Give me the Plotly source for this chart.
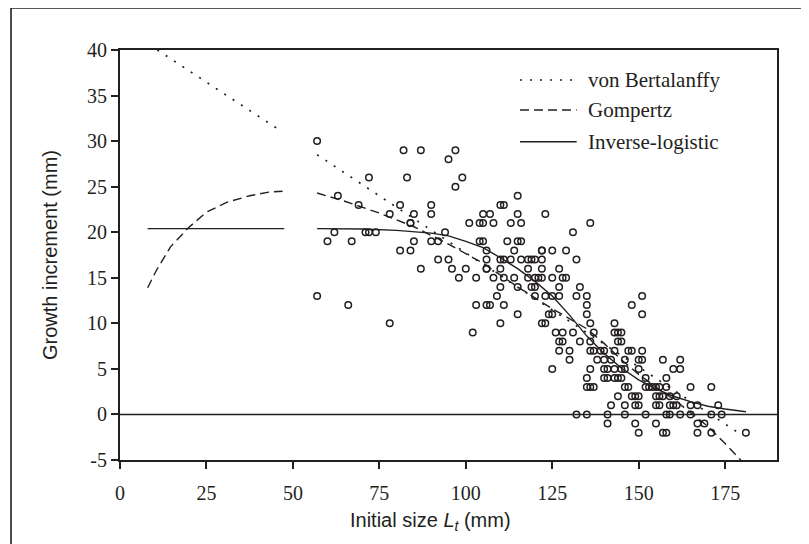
import plotly.graph_objects as go

# ---- observed data: initial size (mm) and growth increment (mm) ----
obs_size = [
    57,
    82, 87, 97,
    95,
    72, 83, 99,
    97,
    63, 115,
    69, 81, 90, 110, 111,
    78, 85, 90, 105, 107, 115, 123,
    84, 84, 101, 104, 105, 108, 113, 116, 136,
    62, 71, 72, 74, 94, 131,
    60, 67, 85, 90, 92, 104, 105, 112, 115, 116,
    81, 84, 106, 114, 122, 122, 125, 129,
    92, 95, 106, 110, 111, 113, 116, 118, 119, 120, 122, 132,
    87, 96, 100, 106, 106, 110, 118, 122, 127,
    98, 103, 108, 111, 114, 118, 120, 121, 122, 125, 128, 129,
    110, 115, 119, 120, 127, 133,
    57, 109, 120, 123, 125, 127, 132, 135, 151,
    66, 103, 106, 107, 111, 135, 148,
    115, 124, 125, 135, 151,
    78, 110, 122, 123, 136, 143,
    102, 126, 128, 131, 137, 143, 144, 145,
    127, 128, 133, 136, 144, 145,
    127, 130, 136, 137, 139, 140, 143, 147, 148, 151,
    130, 138, 140, 142, 146, 150, 151, 157, 162,
    125, 136, 140, 141, 143, 145, 146, 150, 160, 162,
    135, 140, 141, 143, 144, 145, 152, 158,
    135, 136, 137, 146, 147, 152, 153, 154, 155, 156, 158, 165, 171,
    144, 148, 149, 150, 155, 156, 157, 159, 161,
    142, 146, 149, 150, 155, 156, 159, 160, 161, 165, 167, 173,
    132, 135, 141, 146, 152, 158, 159, 162, 165, 171, 174,
    141, 149, 155, 167, 169,
    150, 157, 158, 167, 171, 181,
]
obs_increment = [
    30,
    29, 29, 29,
    28,
    26, 26, 26,
    25,
    24, 24,
    23, 23, 23, 23, 23,
    22, 22, 22, 22, 22, 22, 22,
    21, 21, 21, 21, 21, 21, 21, 21, 21,
    20, 20, 20, 20, 20, 20,
    19, 19, 19, 19, 19, 19, 19, 19, 19, 19,
    18, 18, 18, 18, 18, 18, 18, 18,
    17, 17, 17, 17, 17, 17, 17, 17, 17, 17, 17, 17,
    16, 16, 16, 16, 16, 16, 16, 16, 16,
    15, 15, 15, 15, 15, 15, 15, 15, 15, 15, 15, 15,
    14, 14, 14, 14, 14, 14,
    13, 13, 13, 13, 13, 13, 13, 13, 13,
    12, 12, 12, 12, 12, 12, 12,
    11, 11, 11, 11, 11,
    10, 10, 10, 10, 10, 10,
    9, 9, 9, 9, 9, 9, 9, 9,
    8, 8, 8, 8, 8, 8,
    7, 7, 7, 7, 7, 7, 7, 7, 7, 7,
    6, 6, 6, 6, 6, 6, 6, 6, 6,
    5, 5, 5, 5, 5, 5, 5, 5, 5, 5,
    4, 4, 4, 4, 4, 4, 4, 4,
    3, 3, 3, 3, 3, 3, 3, 3, 3, 3, 3, 3, 3,
    2, 2, 2, 2, 2, 2, 2, 2, 2,
    1, 1, 1, 1, 1, 1, 1, 1, 1, 1, 1, 1,
    0, 0, 0, 0, 0, 0, 0, 0, 0, 0, 0,
    -1, -1, -1, -1, -1,
    -2, -2, -2, -2, -2, -2,
]
assert len(obs_size) == len(obs_increment)

# ---- fitted curves ----
vb_size = [10.8, 47, None, 57, 180]
vb_increment = [40, 31.0, None, 28.5, -2.3]

gompertz_size = [8, 10.5, 14.6, 19.8, 25, 31, 37.5, 43, 47, None,
                 57, 65, 75, 85, 95, 105, 115, 125, 135, 140, 145, 150,
                 155, 160, 165, 170, 175, 180.5]
gompertz_increment = [13.9, 15.8, 18.4, 20.5, 22.2, 23.3, 24.0, 24.4, 24.5, None,
                      24.3, 23.4, 22.1, 20.6, 18.7, 16.6, 14.0, 11.6, 9.4, 7.8, 6.0, 4.4,
                      3.0, 1.7, 0.2, -1.3, -3.2, -5.4]

invlog_size = [8, 47.5, None, 57, 70, 80, 90, 95, 100, 105, 110, 115, 120, 125,
               130, 135, 140, 145, 150, 155, 160, 165, 170, 175, 181]
invlog_increment = [20.4, 20.4, None, 20.4, 20.35, 20.2, 19.9, 19.6, 19.0, 18.3, 17.2,
                    16.0, 14.6, 13.0, 10.9, 8.6, 6.7, 5.1, 3.8, 2.8, 2.0, 1.4, 0.9, 0.6, 0.3]

legend_names = ["von Bertalanffy", "Gompertz", "Inverse-logistic"]
x_ticks = [0, 25, 50, 75, 100, 125, 150, 175]
y_ticks = [-5, 0, 5, 10, 15, 20, 25, 30, 35, 40]
y_ticktext = ["-5", "0", "5", "10", "15", "20", "25", "30", "35", "40"]

INK = "#231f20"
DOT = "2px,8px"
DASH = "9px,5px"

fig = go.Figure()
fig.add_trace(go.Scatter(x=vb_size, y=vb_increment, mode="lines",
                         line=dict(color=INK, width=1.7, dash=DOT), showlegend=False))
fig.add_trace(go.Scatter(x=gompertz_size, y=gompertz_increment, mode="lines",
                         line=dict(color=INK, width=1.4, dash=DASH), showlegend=False))
fig.add_trace(go.Scatter(x=invlog_size, y=invlog_increment, mode="lines",
                         line=dict(color=INK, width=1.4), showlegend=False))
fig.add_trace(go.Scatter(x=obs_size, y=obs_increment, mode="markers",
                         marker=dict(symbol="circle-open", size=6.5, color=INK,
                                     line=dict(width=1.5, color=INK)),
                         showlegend=False))

# plot area in the page: x 120..777, y 50..460 (page has an 8px body margin)
shapes = [
    dict(type="line", xref="paper", yref="y", x0=0, x1=1, y0=0, y1=0,
         line=dict(color=INK, width=1.6)),
    dict(type="rect", xref="paper", yref="paper", x0=-0.1659, x1=1.0441,
         y0=-0.26, y1=1.1024, line=dict(color=INK, width=1.6)),
]
leg_y = [0.9268, 0.8537, 0.7763]
leg_dash = [DOT, DASH, "solid"]
annotations = []
for name, yy, dsh in zip(legend_names, leg_y, leg_dash):
    shapes.append(dict(type="line", xref="paper", yref="paper", x0=0.6088, x1=0.6951,
                       y0=yy, y1=yy, line=dict(color=INK, width=1.6, dash=dsh)))
    annotations.append(dict(text=name, xref="paper", yref="paper", x=0.7093, y=yy,
                            xanchor="left", yanchor="middle", showarrow=False,
                            font=dict(family="Liberation Serif", size=21, color=INK)))

annotations.append(dict(text="Growth increment (mm)", xref="paper", yref="paper",
                        x=-0.1065, y=0.5, textangle=-90, showarrow=False,
                        xanchor="center", yanchor="middle",
                        font=dict(family="Liberation Sans", size=20, color=INK)))
annotations.append(dict(text="Initial size <i>L<sub>t</sub></i> (mm)", xref="paper", yref="paper",
                        x=0.473, y=-0.149, showarrow=False,
                        xanchor="center", yanchor="middle",
                        font=dict(family="Liberation Sans", size=20, color=INK)))

axis_common = dict(showline=True, linecolor=INK, linewidth=2, mirror=True,
                   ticks="outside", ticklen=7, tickwidth=1.6, tickcolor=INK,
                   showgrid=False, zeroline=False,
                   tickfont=dict(family="Liberation Serif", size=20, color=INK))

fig.update_layout(
    width=801, height=536,
    margin=dict(l=112, r=32, t=42, b=84),
    paper_bgcolor="white", plot_bgcolor="white",
    xaxis=dict(range=[0, 190], tickvals=x_ticks, ticklabelstandoff=7, **axis_common),
    yaxis=dict(range=[-5, 40], tickvals=y_ticks, ticktext=y_ticktext, **axis_common),
    shapes=shapes, annotations=annotations,
    showlegend=False,
)

fig.write_html("out.html")
